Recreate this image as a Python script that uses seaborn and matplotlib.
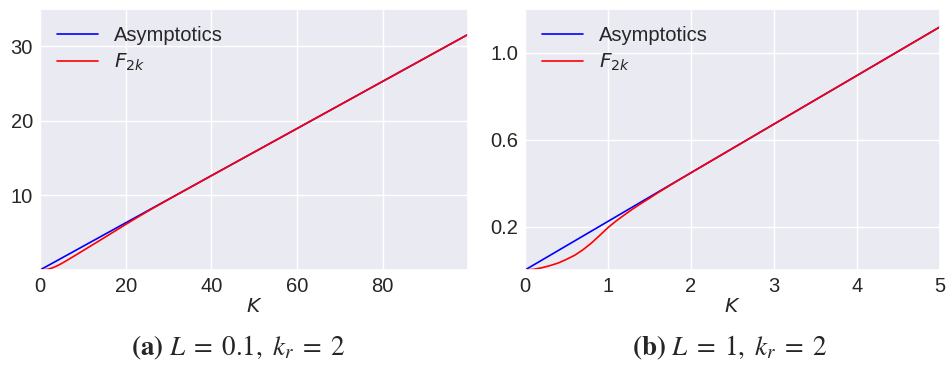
import matplotlib
matplotlib.use("Agg")
import matplotlib.pyplot as plt
import seaborn as sns
import pandas as pd

# Panel (a): L = 0.1, k_r = 2
k_a = [0, 1, 2, 3, 4, 5, 6, 8, 10, 12, 14, 16, 18, 20, 22, 24, 26, 28, 30,
       40, 60, 80, 100]
f2k_a = [0, 0.03, 0.13, 0.31, 0.56, 0.86, 1.19, 1.88, 2.58, 3.28, 3.98, 4.69,
         5.40, 6.11, 6.81, 7.49, 8.16, 8.81, 9.46, 12.65, 18.97, 25.30, 31.62]
k_asym_a = [0, 100]
asym_a = [0, 31.62]

# Panel (b): L = 1, k_r = 2
k_b = [0, 0.1, 0.2, 0.3, 0.4, 0.5, 0.6, 0.7, 0.8, 0.9, 1.0, 1.1, 1.2, 1.3,
       1.4, 1.5, 1.6, 1.8, 2.0, 3.0, 4.0, 5.0]
f2k_b = [0, 0.003, 0.010, 0.020, 0.032, 0.049, 0.068, 0.0935, 0.124, 0.159,
         0.195, 0.226, 0.254, 0.281, 0.306, 0.330, 0.355, 0.4015, 0.447,
         0.671, 0.894, 1.118]
k_asym_b = [0, 5]
asym_b = [0, 1.118]

xticks_a = [0, 20, 40, 60, 80]
yticks_a = [10, 20, 30]
xticks_b = [0, 1, 2, 3, 4, 5]
yticks_b = [0.2, 0.6, 1.0]

sns.set_theme(style="darkgrid")
plt.rcParams["font.family"] = ["Liberation Sans", "DejaVu Sans"]

fig = plt.figure(figsize=(9.53, 3.65), dpi=100)
ax_a = fig.add_axes([40 / 953, 95 / 365, 428 / 953, 261 / 365])
ax_b = fig.add_axes([525 / 953, 95 / 365, 415 / 953, 261 / 365])

panels = [
    (ax_a, k_asym_a, asym_a, k_a, f2k_a, (0, 99.9), (0, 35), xticks_a, yticks_a,
     r"$\mathbf{(a)}\ L\;=\;0.1,\ k_r\;=\;2$", 238),
    (ax_b, k_asym_b, asym_b, k_b, f2k_b, (0, 5), (0, 1.2), xticks_b, yticks_b,
     r"$\mathbf{(b)}\ L\;=\;1,\ k_r\;=\;2$", 730),
]

for ax, kx, ay, kf, fy, xl, yl, xt, yt, cap, cx in panels:
    df_asym = pd.DataFrame({"K": kx, "v": ay})
    df_f = pd.DataFrame({"K": kf, "v": fy})
    sns.lineplot(data=df_asym, x="K", y="v", ax=ax, color="blue", lw=1.2,
                 label="Asymptotics")
    sns.lineplot(data=df_f, x="K", y="v", ax=ax, color="red", lw=1.2,
                 label=r"$F_{2k}$")
    ax.set_xlim(*xl)
    ax.set_ylim(*yl)
    ax.set_xticks(xt)
    ax.set_yticks(yt)
    ax.tick_params(labelsize=14.5, length=0, pad=5)
    ax.set_xlabel(r"$K$", fontsize=14.5, labelpad=1)
    ax.set_ylabel("")
    ax.legend(loc="upper left", frameon=False, fontsize=14.5, handlelength=2.05,
              handletextpad=0.75, labelspacing=0.35, borderaxespad=0.45)
    fig.text(cx / 953, 1 - 348 / 365, cap, ha="center", va="center",
             fontsize=19.5, math_fontfamily="stix")

fig.savefig("out.png", dpi=100, facecolor="white")
